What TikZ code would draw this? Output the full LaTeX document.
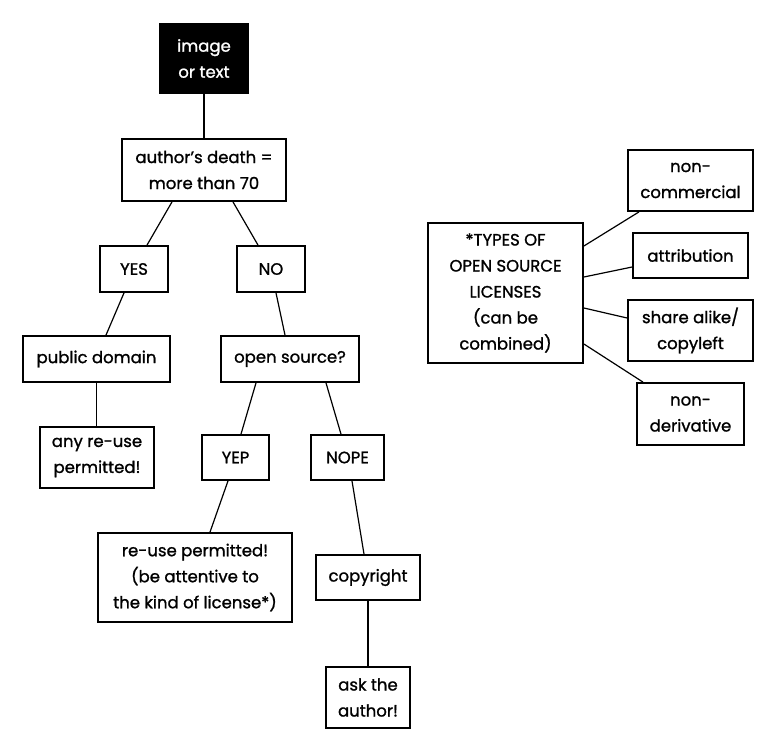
\documentclass[tikz,border=0pt]{standalone}
\usepackage{fontspec}
\setmainfont{Poppins}[FakeBold=1.2]
\usetikzlibrary{positioning}

\begin{document}
\begin{tikzpicture}[x=1pt,y=-1pt]
\tikzstyle{main}=[rectangle, draw=black, line width=1.8pt, inner sep=0pt, align=center, font=\fontsize{16.5}{26}\selectfont]
\tikzstyle{connect}=[line width=1.2pt]
\tikzstyle{dark}=[main, fill=black, text=white]
\useasboundingbox (0,0) rectangle (780,750);
  % left tree
  \node[dark, minimum width=88pt, minimum height=69pt] (Img) at (204,58.5) {image\\or text};
  \node[main, minimum width=164pt, minimum height=62pt] (Death) at (204,170) {author’s death =\\more than 70};
  \node[main, minimum width=68pt, minimum height=46pt] (Yes) at (134,269) {YES};
  \node[main, minimum width=68pt, minimum height=46pt] (No) at (271,269) {NO};
  \node[main, minimum width=147pt, minimum height=46pt] (PD) at (96.5,359) {public domain};
  \node[main, minimum width=138pt, minimum height=46pt] (OS) at (290,359) {open source?};
  \node[main, minimum width=114pt, minimum height=61pt] (Any) at (97,457.5) {any re-use\\permitted!};
  \node[main, minimum width=67pt, minimum height=45pt] (Yep) at (235.5,457.5) {YEP};
  \node[main, minimum width=73pt, minimum height=45pt] (Nope) at (347.5,457.5) {NOPE};
  \node[main, minimum width=194pt, minimum height=89pt] (Reuse) at (195,577.5) {re-use permitted!\\(be attentive to\\the kind of license*)};
  \node[main, minimum width=104pt, minimum height=45pt] (Copy) at (368,577.5) {copyright};
  \node[main, minimum width=84pt, minimum height=61pt] (Ask) at (368,697.5) {ask the\\author!};
  % license types
  \node[main, minimum width=155pt, minimum height=140pt] (Types) at (505.5,293) {*TYPES OF\\OPEN SOURCE\\LICENSES\\(can be\\combined)};
  \node[main, minimum width=125pt, minimum height=61pt] (NC) at (690.5,180.5) {non-\\commercial};
  \node[main, minimum width=115pt, minimum height=45pt] (Attr) at (690.5,255.5) {attribution};
  \node[main, minimum width=125pt, minimum height=61pt] (SA) at (690.5,330.5) {share alike/\\copyleft};
  \node[main, minimum width=107pt, minimum height=62pt] (ND) at (690.5,414) {non-\\derivative};

  \path (Img) edge [connect] (Death);
  \path ([xshift=-32pt]Death.south) edge [connect] ([xshift=13pt]Yes.north)
        ([xshift=29pt]Death.south) edge [connect] ([xshift=-13pt]No.north);
  \path ([xshift=-10pt]Yes.south) edge [connect] ([xshift=9.5pt]PD.north)
        ([xshift=5pt]No.south) edge [connect] ([xshift=-5pt]OS.north);
  \path (PD.south) edge [connect] (PD.south |- Any.north);
  \path ([xshift=-34pt]OS.south) edge [connect] ([xshift=5.5pt]Yep.north)
        ([xshift=36pt]OS.south) edge [connect] ([xshift=-6.5pt]Nope.north);
  \path ([xshift=-7.5pt]Yep.south) edge [connect] ([xshift=15pt]Reuse.north)
        ([xshift=4.5pt]Nope.south) edge [connect] ([xshift=-4pt]Copy.north);
  \path (Copy) edge [connect] (Ask);

  \path ([yshift=47pt]Types.east) edge [connect] ([xshift=-51.5pt]NC.south)
        ([yshift=16pt]Types.east) edge [connect] ([yshift=-11.5pt]Attr.west)
        ([yshift=-15pt]Types.east) edge [connect] ([yshift=12.5pt]SA.west)
        ([yshift=-51pt]Types.east) edge [connect] ([xshift=-47.5pt]ND.north);

\end{tikzpicture}
\end{document}
